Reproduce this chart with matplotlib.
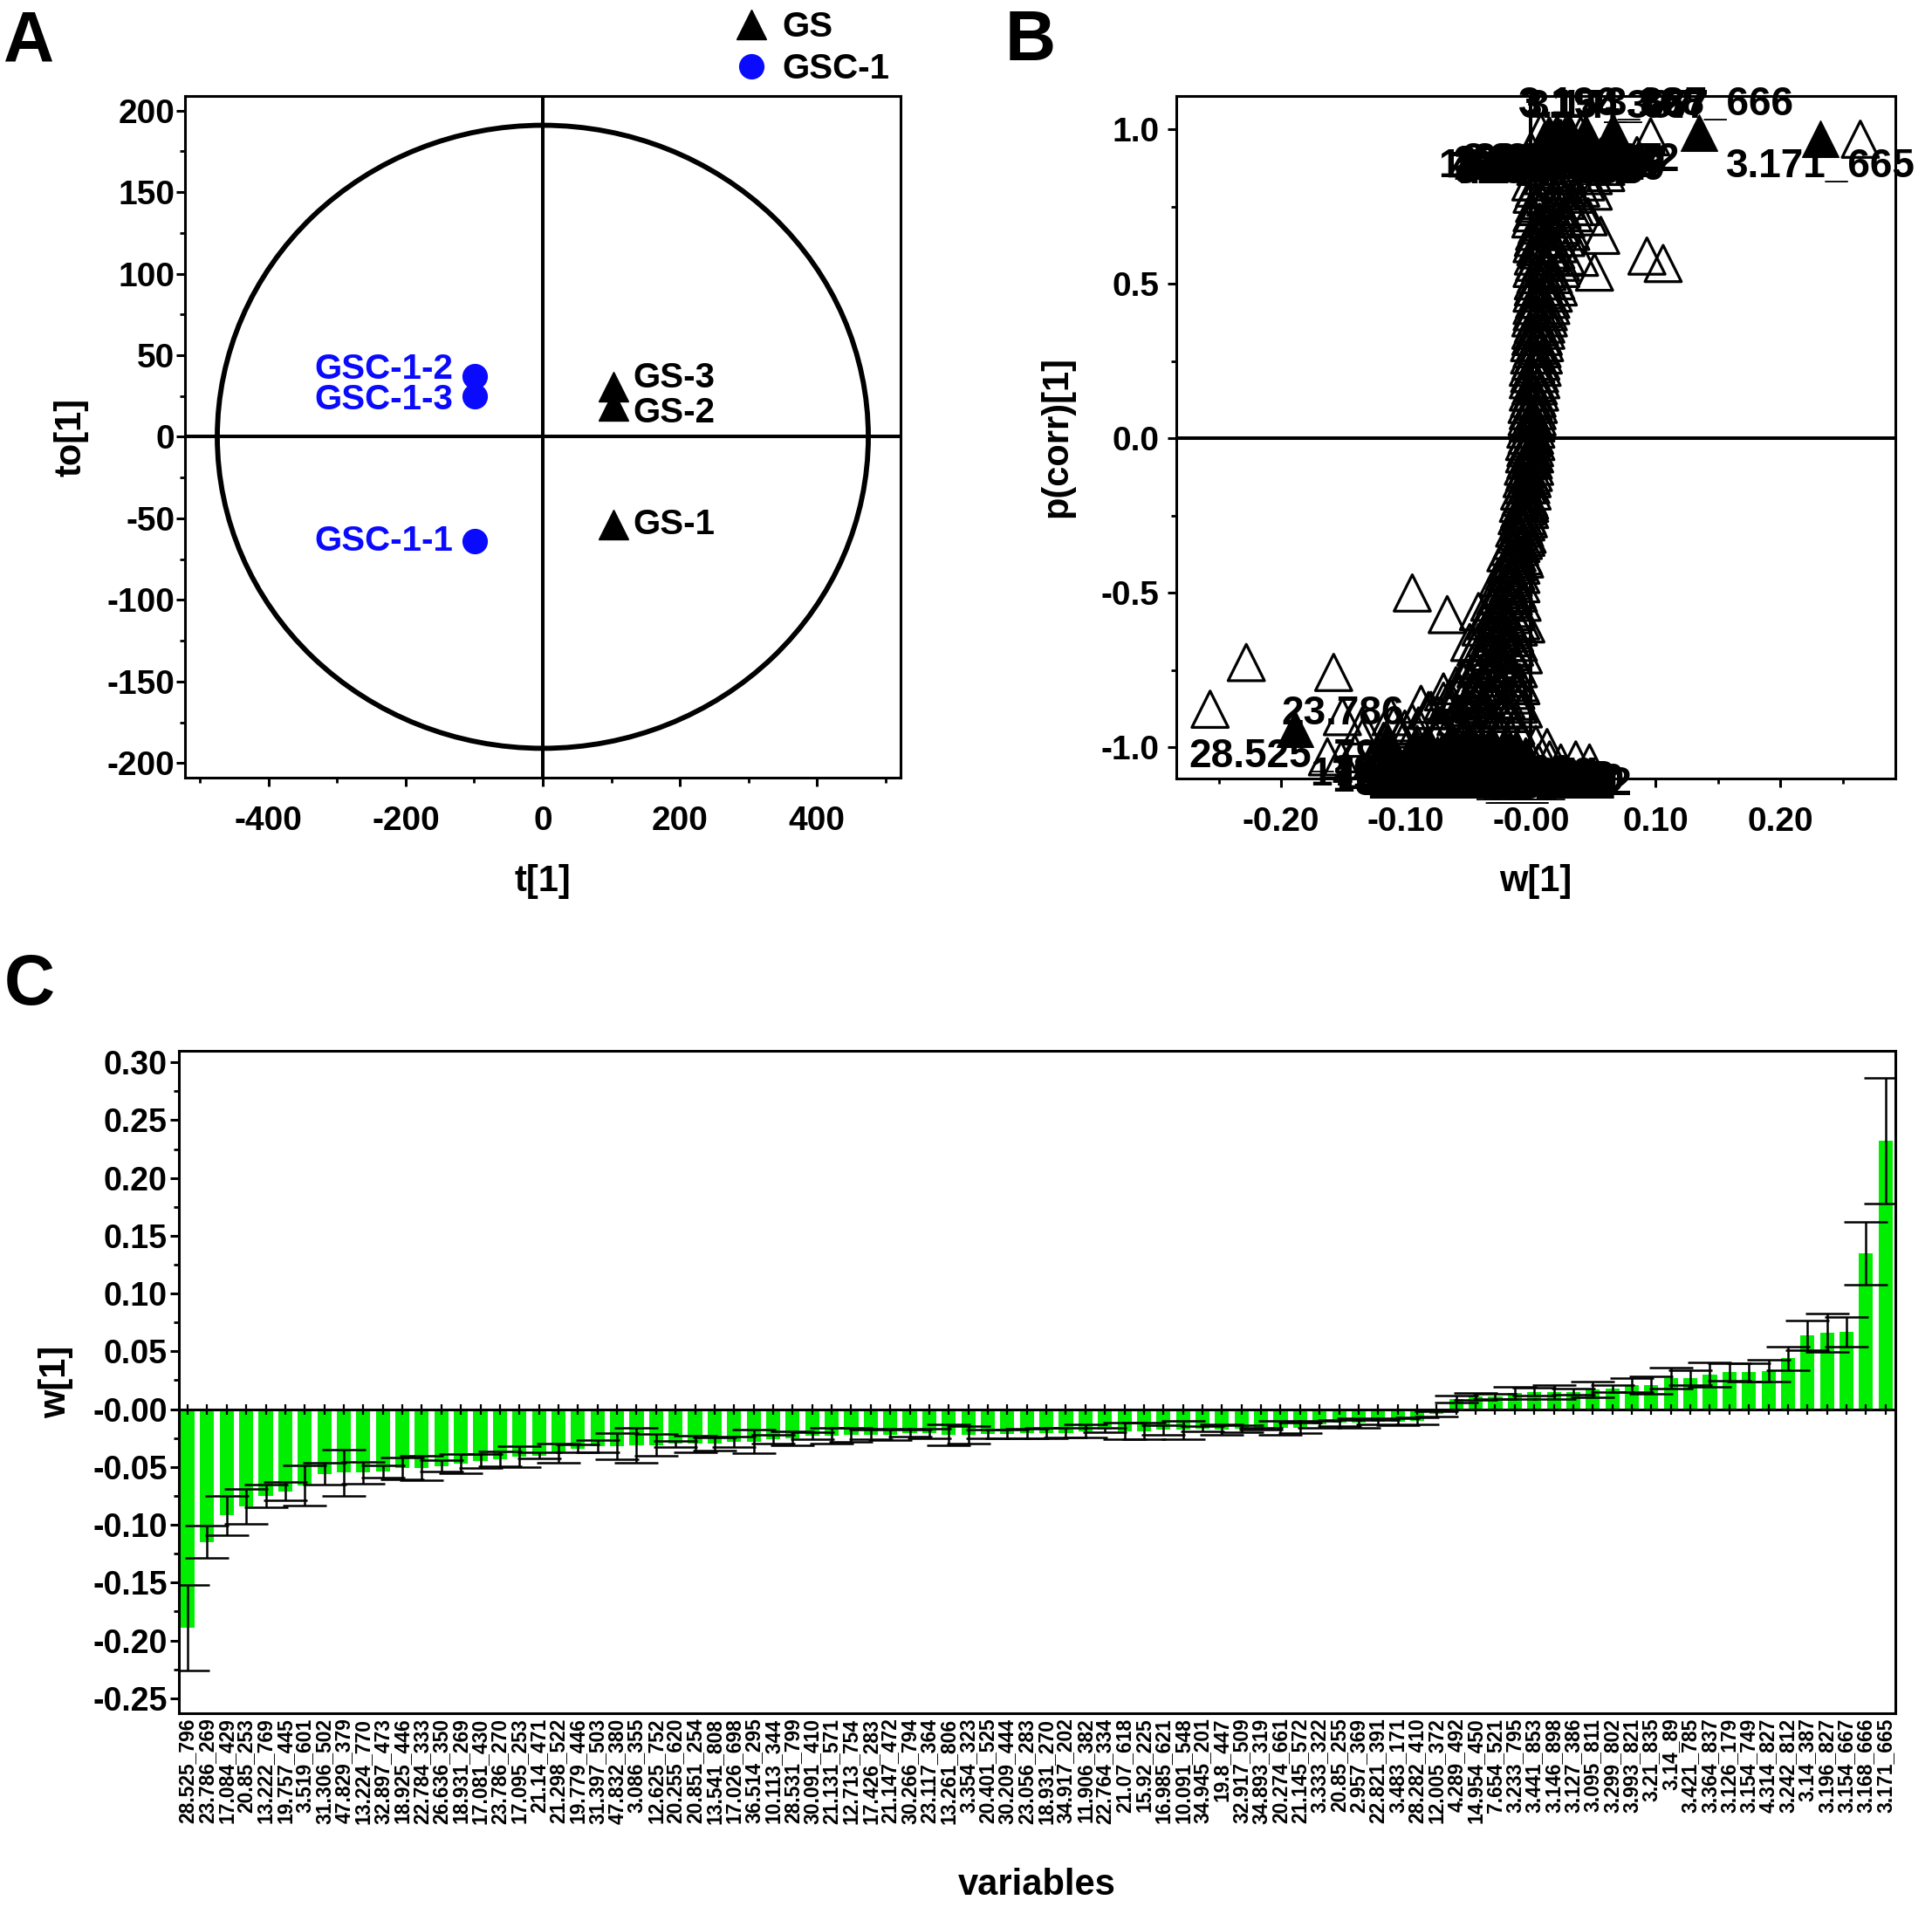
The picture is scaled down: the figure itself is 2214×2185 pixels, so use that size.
import numpy as np
import matplotlib
matplotlib.use('Agg')
import matplotlib.pyplot as plt
from matplotlib.patches import Ellipse
from matplotlib.ticker import MultipleLocator, FuncFormatter

plt.rcParams['font.family'] = ['Liberation Sans', 'DejaVu Sans']
plt.rcParams['font.weight'] = 'bold'
plt.rcParams['axes.labelweight'] = 'bold'
plt.rcParams['axes.linewidth'] = 2.2
plt.rcParams['axes.unicode_minus'] = False

# ---- panel A: OPLS-DA scores ----
gs_names = ['GS-1', 'GS-2', 'GS-3']
gs_t = [103, 103, 103]
gs_to = [-54, 19, 31]
gsc_names = ['GSC-1-1', 'GSC-1-2', 'GSC-1-3']
gsc_t = [-99, -99, -99]
gsc_to = [-64, 37, 25]
ellipse_t = 475   # Hotelling T2 semi-axes
ellipse_to = 191

# ---- panel C: loadings w[1] with jack-knife intervals ----
var_names = [
    '28.525_796', '23.786_269', '17.084_429', '20.85_253', '13.222_769', '19.757_445',
    '3.519_601', '31.306_502', '47.829_379', '13.224_770', '32.897_473', '18.925_446',
    '22.784_333', '26.636_350', '18.931_269', '17.081_430', '23.786_270', '17.095_253',
    '21.14_471', '21.298_522', '19.779_446', '31.397_503', '47.832_380', '3.086_355',
    '12.625_752', '20.255_620', '20.851_254', '13.541_808', '17.026_698', '36.514_295',
    '10.113_344', '28.531_799', '30.091_410', '21.131_571', '12.713_754', '17.426_283',
    '21.147_472', '30.266_794', '23.117_364', '13.261_806', '3.354_323', '20.401_525',
    '30.209_444', '23.056_283', '18.931_270', '34.917_202', '11.906_382', '22.764_334',
    '21.07_618', '15.92_225', '16.985_621', '10.091_548', '34.945_201', '19.8_447',
    '32.917_509', '34.893_319', '20.274_661', '21.145_572', '3.333_322', '20.85_255',
    '2.957_369', '22.821_391', '3.483_171', '28.282_410', '12.005_372', '4.289_492',
    '14.954_450', '7.654_521', '3.233_795', '3.441_853', '3.146_898', '3.127_386',
    '3.095_811', '3.299_802', '3.993_821', '3.21_835', '3.14_89', '3.421_785',
    '3.364_837', '3.126_179', '3.154_749', '4.314_827', '3.242_812', '3.14_387',
    '3.196_827', '3.154_667', '3.168_666', '3.171_665']
w_vals = [
    -0.189, -0.115, -0.092, -0.084, -0.075, -0.071, -0.066, -0.056, -0.055, -0.055,
    -0.054, -0.051, -0.051, -0.049, -0.047, -0.045, -0.043, -0.041, -0.040, -0.038,
    -0.034, -0.032, -0.032, -0.031, -0.031, -0.030, -0.030, -0.030, -0.028, -0.028,
    -0.026, -0.025, -0.023, -0.023, -0.022, -0.022, -0.022, -0.021, -0.021, -0.022,
    -0.022, -0.0215, -0.0215, -0.021, -0.021, -0.0205, -0.019, -0.018, -0.019, -0.019,
    -0.018, -0.018, -0.017, -0.0175, -0.017, -0.017, -0.016, -0.016, -0.013, -0.012,
    -0.012, -0.011, -0.011, -0.010, -0.004,
    0.009, 0.011, 0.011, 0.014, 0.015, 0.015, 0.015, 0.017, 0.018, 0.021,
    0.021, 0.027, 0.027, 0.030, 0.032, 0.032, 0.033, 0.044, 0.064, 0.066,
    0.067, 0.135, 0.232]
w_err = [
    0.037, 0.014, 0.017, 0.015, 0.010, 0.008, 0.0175, 0.0095, 0.020, 0.0095,
    0.0055, 0.0095, 0.0105, 0.005, 0.0085, 0.006, 0.0065, 0.009, 0.0025, 0.0085,
    0.0035, 0.0055, 0.0115, 0.015, 0.0095, 0.0025, 0.007, 0.0055, 0.0045, 0.010,
    0.004, 0.006, 0.003, 0.0066, 0.006, 0.004, 0.005, 0.003, 0.004, 0.009,
    0.0075, 0.004, 0.004, 0.004, 0.0045, 0.004, 0.0057, 0.002, 0.007, 0.007,
    0.004, 0.008, 0.0025, 0.0045, 0.003, 0.001, 0.006, 0.0045, 0.003, 0.003,
    0.004, 0.002, 0.003, 0.003, 0.002,
    0.003, 0.003, 0.0025, 0.005, 0.0035, 0.006, 0.0025, 0.007, 0.003, 0.006,
    0.0075, 0.009, 0.0065, 0.0105, 0.0075, 0.008, 0.0095, 0.010, 0.013, 0.0165,
    0.013, 0.027, 0.0545]

# ---- panel B: S-plot ----
# p(corr) of the 88 selected variables (filled triangles)
pcorr_sel = [
    -0.94, -0.98, -1.00, -0.99, -1.02, -1.01, -0.99, -1.03, -1.00, -1.02,
    -1.01, -1.03, -0.99, -1.02, -1.04, -1.00, -1.03, -1.01, -1.04, -1.02,
    -1.00, -1.03, -1.01, -1.04, -1.02, -1.03, -1.00, -1.04, -1.02, -1.01,
    -1.03, -1.04, -1.02, -1.03, -1.01, -1.04, -1.02, -1.03, -1.04, -1.01,
    -1.03, -1.02, -1.04, -1.03, -1.01, -1.04, -1.02, -1.03, -1.04, -1.02,
    -1.03, -1.01, -1.04, -1.02, -1.03, -1.04, -1.02, -1.03, -1.01, -1.04,
    -1.02, -1.03, -1.04, -1.02, -1.03,
    0.95, 0.97, 0.96, 0.98, 0.97, 0.95, 0.98, 0.96, 0.97, 0.99,
    0.96, 0.98, 0.97, 0.99, 0.96, 0.98, 0.97, 0.99, 0.98, 0.99,
    0.98, 0.99, 0.97]
labels_above = ['23.786_269', '3.14_387', '3.196_827', '3.154_667', '3.168_666']

# all other variables (open triangles)
other_w = [
    # bottom band
    -0.163, -0.152, -0.141, -0.128, -0.119, -0.108, -0.097, -0.088, -0.079, -0.068,
    -0.058, -0.049, -0.041, -0.032, -0.022, -0.013, -0.004, 0.006, 0.015, 0.024,
    0.036, 0.047,
    -0.135, -0.118, -0.104, -0.091, -0.077, -0.063, -0.052, -0.043, -0.031, -0.024,
    -0.016, -0.007, 0.004, 0.013,
    # scattered lower left
    -0.257, -0.228, -0.158, -0.151, -0.112, -0.135, -0.095, -0.067, -0.042, -0.049,
    -0.082, -0.095, -0.072, -0.060, -0.052, -0.041, -0.088, -0.101,
    -0.110, -0.090, -0.070, -0.050, -0.030, -0.012, -0.080, -0.065, -0.040, -0.070,
    -0.055, -0.070, -0.060,
    # rising part and column
    -0.046, -0.038, -0.055, -0.030, -0.022, -0.040, -0.028, -0.018, -0.035, -0.024,
    -0.015, -0.030, -0.020, -0.012, -0.026, -0.017, -0.010, -0.022, -0.014, -0.008,
    -0.018, -0.011, -0.006, -0.014, -0.008, -0.004, -0.010, -0.006, -0.002, -0.008,
    -0.004, -0.001, -0.006, -0.003, 0.000, -0.004, -0.001, 0.001, -0.002, 0.001,
    0.000, 0.002, -0.001, 0.002, 0.001, 0.003, 0.001, 0.004, 0.002, 0.005,
    0.003, 0.007, 0.004, 0.009, 0.005, 0.011, 0.006, 0.013, 0.008, 0.016,
    0.004, 0.011, 0.020, 0.007, 0.015, 0.025, 0.003, 0.012, 0.022, 0.030,
    0.000, 0.018,
    -0.008, -0.012, -0.020, -0.065, -0.006, -0.004,
    -0.052, -0.035, -0.018, -0.045, -0.028, -0.010, -0.058, -0.032, -0.015, -0.048,
    -0.024, -0.009, -0.040, -0.018, -0.047, -0.026, -0.012, -0.035, -0.016, -0.042,
    -0.021, -0.010, -0.030, -0.013, -0.036, -0.019, -0.008, -0.025, -0.011, -0.028,
    -0.014, -0.018, -0.008, -0.021, -0.012, -0.015, -0.005, -0.017, -0.009, -0.012,
    -0.003, -0.010, -0.004, -0.009, -0.001, -0.008, -0.002, -0.006, 0.000, -0.005,
    0.002, -0.004, 0.002, -0.004, 0.003, -0.003, 0.003, -0.002, 0.004, -0.002,
    0.005, -0.001, 0.005, 0.000, 0.006, -0.001, 0.007, 0.000, 0.008, 0.001,
    0.009, 0.000, 0.010, 0.002, 0.012, 0.001, 0.014, 0.003, 0.016, 0.002,
    0.015, 0.022, 0.004, 0.018, 0.003, 0.012, 0.024, 0.006, 0.020, 0.002,
    0.014, 0.028, 0.005, 0.024, 0.001, 0.018, 0.034, 0.008, 0.028, 0.003,
    0.016, 0.040, 0.010, 0.030, 0.050,
    -0.040, -0.022, -0.006, -0.050, -0.036, -0.020, -0.043, -0.028, -0.012, -0.052,
    -0.034, -0.014, -0.044, -0.030, -0.010, -0.038, -0.020, -0.044, -0.028, -0.013,
    -0.036, -0.018, -0.040, -0.024, -0.010, -0.030, -0.015, -0.033, -0.020, -0.007,
    -0.024, -0.011, -0.026, -0.014, -0.019, -0.008, -0.020, -0.011, -0.015, -0.006,
    -0.013, -0.005, -0.011, -0.003, -0.010, -0.001, -0.009, 0.001, -0.007, 0.001,
    -0.006, 0.003, -0.005, 0.003, -0.005, 0.004, -0.004, 0.004, -0.003, 0.005,
    -0.003, 0.006, -0.002, 0.007, -0.002, 0.008, -0.002, 0.009, -0.001, 0.010,
    -0.001, 0.011, 0.000, 0.012, 0.000, 0.014, 0.001, 0.016, 0.001, 0.018,
    0.002, 0.010, 0.020, 0.001, 0.012, 0.024, 0.002, 0.016, 0.028, 0.001,
    0.010, 0.022, 0.003, 0.018, 0.032, 0.000, 0.012, 0.028, 0.004, 0.020,
    0.040, 0.001, 0.014, 0.035, 0.006, 0.024, 0.044,
    # top band
    0.000, 0.008, 0.016, 0.024, 0.032, 0.040, 0.048, 0.056, 0.064, 0.072,
    0.004, 0.012, 0.028, 0.044, 0.060, 0.085,
    # scattered upper right
    0.096, 0.264, 0.093, 0.106, 0.051, 0.039, 0.056, 0.046, 0.035, 0.050, 0.060]
other_p = [
    -1.03, -1.04, -1.02, -1.05, -1.03, -1.04, -1.03, -1.05, -1.02, -1.04,
    -1.03, -1.05, -1.04, -1.03, -1.05, -1.04, -1.03, -1.05, -1.04, -1.05,
    -1.04, -1.05,
    -0.97, -0.98, -0.96, -0.99, -0.97, -0.98, -0.96, -0.97, -0.99, -0.95,
    -0.97, -0.98, -0.99, -1.00,
    -0.876, -0.725, -0.757, -0.90, -0.90, -0.93, -0.50, -0.57, -0.56, -0.66,
    -0.88, -0.92, -0.93, -0.90, -0.87, -0.84, -0.86, -0.94,
    -0.93, -0.93, -0.93, -0.93, -0.93, -0.93, -0.88, -0.88, -0.88, -0.85,
    -0.85, -0.82, -0.80,
    -0.82, -0.80, -0.78, -0.76, -0.74, -0.72, -0.70, -0.68, -0.66, -0.64,
    -0.62, -0.60, -0.58, -0.56, -0.54, -0.52, -0.50, -0.48, -0.46, -0.44,
    -0.42, -0.40, -0.38, -0.36, -0.34, -0.32, -0.30, -0.28, -0.26, -0.24,
    -0.22, -0.20, -0.18, -0.15, -0.12, -0.10, -0.07, -0.05, -0.02, 0.00,
    0.03, 0.06, 0.09, 0.12, 0.15, 0.18, 0.21, 0.24, 0.27, 0.30,
    0.33, 0.36, 0.39, 0.42, 0.45, 0.48, 0.51, 0.54, 0.57, 0.60,
    0.62, 0.65, 0.68, 0.70, 0.72, 0.74, 0.76, 0.78, 0.80, 0.82,
    0.83, 0.85,
    -0.80, -0.85, -0.88, -0.84, -0.70, -0.60,
    -0.89, -0.89, -0.89, -0.86, -0.86, -0.86, -0.83, -0.83, -0.83, -0.79,
    -0.79, -0.79, -0.76, -0.76, -0.73, -0.73, -0.73, -0.69, -0.69, -0.66,
    -0.66, -0.66, -0.63, -0.63, -0.59, -0.59, -0.59, -0.55, -0.55, -0.51,
    -0.51, -0.47, -0.47, -0.43, -0.43, -0.39, -0.39, -0.35, -0.35, -0.31,
    -0.31, -0.27, -0.27, -0.23, -0.23, -0.19, -0.19, -0.15, -0.15, -0.11,
    -0.11, -0.07, -0.07, -0.03, -0.03, 0.01, 0.01, 0.05, 0.05, 0.09,
    0.09, 0.13, 0.13, 0.17, 0.17, 0.21, 0.21, 0.25, 0.25, 0.29,
    0.29, 0.33, 0.33, 0.37, 0.37, 0.41, 0.41, 0.45, 0.45, 0.49,
    0.49, 0.49, 0.53, 0.53, 0.57, 0.57, 0.57, 0.61, 0.61, 0.65,
    0.65, 0.65, 0.69, 0.69, 0.73, 0.73, 0.73, 0.77, 0.77, 0.81,
    0.81, 0.81, 0.85, 0.85, 0.85,
    -0.875, -0.875, -0.875, -0.845, -0.845, -0.845, -0.815, -0.815, -0.815, -0.775,
    -0.775, -0.775, -0.745, -0.745, -0.745, -0.715, -0.715, -0.675, -0.675, -0.675,
    -0.645, -0.645, -0.61, -0.61, -0.61, -0.57, -0.57, -0.53, -0.53, -0.53,
    -0.49, -0.49, -0.45, -0.45, -0.41, -0.41, -0.37, -0.37, -0.33, -0.33,
    -0.29, -0.29, -0.25, -0.25, -0.21, -0.21, -0.17, -0.17, -0.13, -0.13,
    -0.09, -0.09, -0.05, -0.05, -0.01, -0.01, 0.03, 0.03, 0.07, 0.07,
    0.11, 0.11, 0.15, 0.15, 0.19, 0.19, 0.23, 0.23, 0.27, 0.27,
    0.31, 0.31, 0.35, 0.35, 0.39, 0.39, 0.43, 0.43, 0.47, 0.47,
    0.51, 0.51, 0.51, 0.55, 0.55, 0.55, 0.59, 0.59, 0.59, 0.63,
    0.63, 0.63, 0.67, 0.67, 0.67, 0.71, 0.71, 0.71, 0.75, 0.75,
    0.75, 0.79, 0.79, 0.79, 0.83, 0.83, 0.83,
    0.93, 0.99, 0.94, 0.97, 0.92, 0.98, 0.95, 0.91, 0.96, 0.93,
    0.88, 0.87, 0.86, 0.89, 0.88, 0.915,
    0.976, 0.968, 0.59, 0.566, 0.538, 0.586, 0.657, 0.717, 0.75, 0.80, 0.86]

# label nudges (points) for the score plot
score_label_dy = {'GS-3': 7, 'GS-2': -6, 'GSC-1-2': 6, 'GSC-1-3': -3}


def two_dec(v, pos):
    if abs(v) < 1e-9:
        return '-0.00'
    return '%.2f' % v


def style_ticks(ax, size, xpad, ypad):
    ax.tick_params(which='major', direction='out', length=7, width=2.2, labelsize=size)
    ax.tick_params(which='minor', direction='out', length=4.5, width=2.0)
    ax.tick_params(axis='x', which='major', pad=xpad)
    ax.tick_params(axis='y', which='major', pad=ypad)
    for lab in ax.get_xticklabels() + ax.get_yticklabels():
        lab.set_fontweight('bold')


fig = plt.figure(figsize=(22.14, 21.85), dpi=100)

# ================= A =================
axA = fig.add_axes([0.0958, 0.5922, 0.3703, 0.3575])
axA.axhline(0, color='black', lw=2.9, zorder=1)
axA.axvline(0, color='black', lw=2.9, zorder=1)
axA.add_patch(Ellipse((0, 0), 2 * ellipse_t, 2 * ellipse_to, fill=False, lw=4.2, color='black', zorder=2))
hGS, = axA.plot(gs_t, gs_to, '^', color='black', ms=24, ls='none', label='GS', zorder=3)
hGSC, = axA.plot(gsc_t, gsc_to, 'o', color='#0a0aff', ms=20, ls='none', label='GSC-1', zorder=3)
for n, x, y in zip(gs_names, gs_t, gs_to):
    axA.annotate(n, (x, y), xytext=(16, score_label_dy.get(n, 0)), textcoords='offset points',
                 ha='left', va='center', fontsize=29, fontweight='bold', color='black')
for n, x, y in zip(gsc_names, gsc_t, gsc_to):
    axA.annotate(n, (x, y), xytext=(-18, score_label_dy.get(n, 0)), textcoords='offset points',
                 ha='right', va='center', fontsize=29, fontweight='bold', color='#0a0aff')
axA.set_xlim(-522, 522)
axA.set_ylim(-209, 209)
axA.xaxis.set_major_locator(MultipleLocator(200))
axA.xaxis.set_minor_locator(MultipleLocator(100))
axA.yaxis.set_major_locator(MultipleLocator(50))
axA.yaxis.set_minor_locator(MultipleLocator(25))
style_ticks(axA, 28, 16, 1.5)
axA.set_xlabel('t[1]', fontsize=30, labelpad=22)
axA.set_ylabel('to[1]', fontsize=30, labelpad=15)
axA.legend(handles=[hGS, hGSC], loc='lower right', bbox_to_anchor=(1.0, 1.0),
           frameon=False, handlelength=0.8, handletextpad=0.5,
           labelspacing=0.25, borderpad=0, borderaxespad=0.3,
           prop={'weight': 'bold', 'size': 29})

# ================= B =================
axB = fig.add_axes([0.6089, 0.5918, 0.3721, 0.3579])
axB.axhline(0, color='black', lw=2.9, zorder=1)
axB.axvline(0, color='black', lw=2.9, zorder=1)
axB.scatter(other_w, other_p, marker='^', s=900, facecolors='none', edgecolors='black',
            linewidths=2.3, zorder=2)
axB.scatter(w_vals, pcorr_sel, marker='^', s=900, color='black', zorder=3)
for n, x, y in zip(var_names, w_vals, pcorr_sel):
    dy = 0.09 if n in labels_above else -0.09
    axB.text(x, y + dy, n, ha='center', va='center', fontsize=33, fontweight='bold',
             zorder=4, clip_on=False)
axB.set_xlim(-0.284, 0.292)
axB.set_ylim(-1.10, 1.108)
axB.xaxis.set_major_locator(MultipleLocator(0.1))
axB.xaxis.set_minor_locator(MultipleLocator(0.05))
axB.yaxis.set_major_locator(MultipleLocator(0.5))
axB.yaxis.set_minor_locator(MultipleLocator(0.25))
axB.xaxis.set_major_formatter(FuncFormatter(two_dec))
axB.yaxis.set_major_formatter(FuncFormatter(lambda v, p: '%.1f' % v))
style_ticks(axB, 28, 16, 7)
axB.set_xlabel('w[1]', fontsize=30, labelpad=22)
axB.set_ylabel('p(corr)[1]', fontsize=30, labelpad=22)

# ================= C =================
axC = fig.add_axes([0.0926, 0.1016, 0.8884, 0.3474])
xpos = np.arange(len(var_names))
axC.bar(xpos, w_vals, width=0.72, color='#00ee00', zorder=2)
axC.errorbar(xpos, w_vals, yerr=w_err, fmt='none', ecolor='black', elinewidth=1.8,
             capsize=18, capthick=1.8, zorder=3)
axC.axhline(0, color='black', lw=2.2, zorder=4)
axC.plot(xpos, np.zeros(len(xpos)), '|', color='black', ms=9, mew=1.6, zorder=4)
axC.set_xlim(-0.45, len(var_names) - 0.5)
axC.set_ylim(-0.263, 0.31)
axC.set_xticks(xpos)
axC.set_xticklabels(var_names, rotation=90, fontsize=16.5, fontweight='bold')
axC.yaxis.set_major_locator(MultipleLocator(0.05))
axC.yaxis.set_minor_locator(MultipleLocator(0.025))
axC.yaxis.set_major_formatter(FuncFormatter(two_dec))
style_ticks(axC, 27, 4, 2.5)
axC.tick_params(axis='x', which='both', length=0, pad=4, labelsize=16.5)
axC.set_xlabel('variables', fontsize=30, labelpad=36)
axC.set_ylabel('w[1]', fontsize=30, labelpad=16)

fig.text(0.002, 0.978, 'A', fontsize=58, fontweight='bold', va='center', ha='left')
fig.text(0.520, 0.978, 'B', fontsize=58, fontweight='bold', va='center', ha='left')
fig.text(0.002, 0.483, 'C', fontsize=58, fontweight='bold', va='center', ha='left')

fig.savefig('out.png', dpi=100)
